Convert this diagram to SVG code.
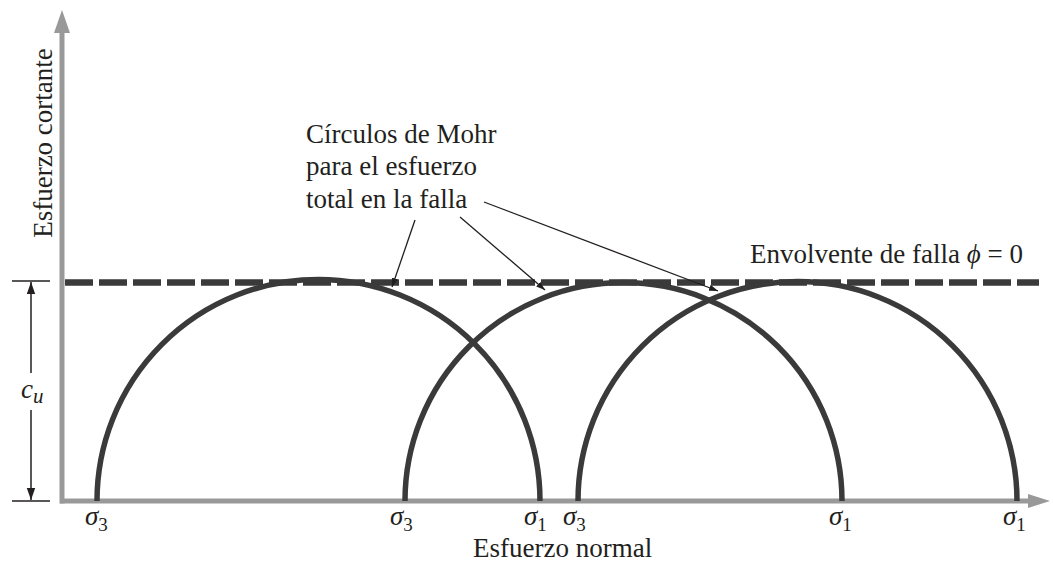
<svg xmlns="http://www.w3.org/2000/svg" width="1053" height="565" viewBox="0 0 1053 565">
<style>
.t{font-family:"Liberation Serif","Times New Roman",serif;font-size:27px;fill:#231f20}
.s{font-family:"Liberation Serif","Times New Roman",serif;font-size:27px;fill:#231f20;font-style:italic}
.sub{font-size:19px;font-style:normal}
.subi{font-size:21px;font-style:italic}
.axis{stroke:#999;stroke-width:5;fill:none}
.circ{stroke:#3a3a3a;stroke-width:5.5;fill:none}
.env{stroke:#3a3a3a;stroke-width:6.5;stroke-dasharray:28 6;fill:none}
.lead{stroke:#231f20;stroke-width:1.3;fill:none}
.dim{stroke:#231f20;stroke-width:1.5;fill:none}
</style>
<defs>
<marker id="ah" viewBox="0 0 10 10" refX="10" refY="5" markerWidth="9" markerHeight="9" markerUnits="userSpaceOnUse" orient="auto">
<path d="M0,1.5 L10,5 L0,8.5 Z" fill="#231f20"/>
</marker>
<marker id="dh" viewBox="0 0 10 10" refX="10" refY="5" markerWidth="12" markerHeight="12" markerUnits="userSpaceOnUse" orient="auto">
<path d="M0,1.5 L10,5 L0,8.5 Z" fill="#231f20"/>
</marker>
</defs>
<g id="axes">
<line class="axis" x1="62" y1="503.5" x2="62" y2="30"/>
<polygon points="62,10 54,33 70,33" fill="#999"/>
<line class="axis" x1="60" y1="501" x2="1030" y2="501"/>
<polygon points="1050,501 1028,494 1028,508" fill="#999"/>
<text class="t" transform="translate(52,143) rotate(-90)" text-anchor="middle">Esfuerzo cortante</text>
<text class="t" x="473" y="557">Esfuerzo normal</text>
</g>
<g id="envelope">
<line class="env" x1="65" y1="282.5" x2="1039" y2="282.5"/>
<text class="t" x="750" y="263">Envolvente de falla <tspan font-style="italic">ϕ</tspan> = 0</text>
</g>
<g id="circle1">
<path class="circ" d="M97,501 A221.5,221.5 0 0 1 540,501"/>
<text class="s" x="85" y="525">σ<tspan class="sub" dy="6">3</tspan></text>
<text class="s" x="524" y="525">σ<tspan class="sub" dy="6">1</tspan></text>
</g>
<g id="circle2">
<path class="circ" d="M405,501 A218.5,218.5 0 0 1 842,501"/>
<text class="s" x="390" y="525">σ<tspan class="sub" dy="6">3</tspan></text>
<text class="s" x="829" y="525">σ<tspan class="sub" dy="6">1</tspan></text>
</g>
<g id="circle3">
<path class="circ" d="M578,501 A219.5,219.5 0 0 1 1017,501"/>
<text class="s" x="563" y="525">σ<tspan class="sub" dy="6">3</tspan></text>
<text class="s" x="1003" y="525">σ<tspan class="sub" dy="6">1</tspan></text>
</g>
<g id="cu">
<line class="dim" x1="12" y1="281" x2="50" y2="281"/>
<line class="dim" x1="12" y1="501" x2="50" y2="501"/>
<line class="dim" x1="31" y1="373" x2="31" y2="282" marker-end="url(#dh)"/>
<line class="dim" x1="31" y1="410" x2="31" y2="500" marker-end="url(#dh)"/>
<text class="s" x="21" y="398">c<tspan class="subi" dy="5">u</tspan></text>
</g>
<g id="label">
<text class="t" x="306" y="143">Círculos de Mohr</text>
<text class="t" x="306" y="175">para el esfuerzo</text>
<text class="t" x="306" y="208">total en la falla</text>
</g>
<g id="connectors">
<line class="lead" x1="415" y1="220" x2="392" y2="287" marker-end="url(#ah)"/>
<line class="lead" x1="460" y1="217" x2="545" y2="290" marker-end="url(#ah)"/>
<line class="lead" x1="484" y1="202" x2="718" y2="291" marker-end="url(#ah)"/>
</g>
</svg>
